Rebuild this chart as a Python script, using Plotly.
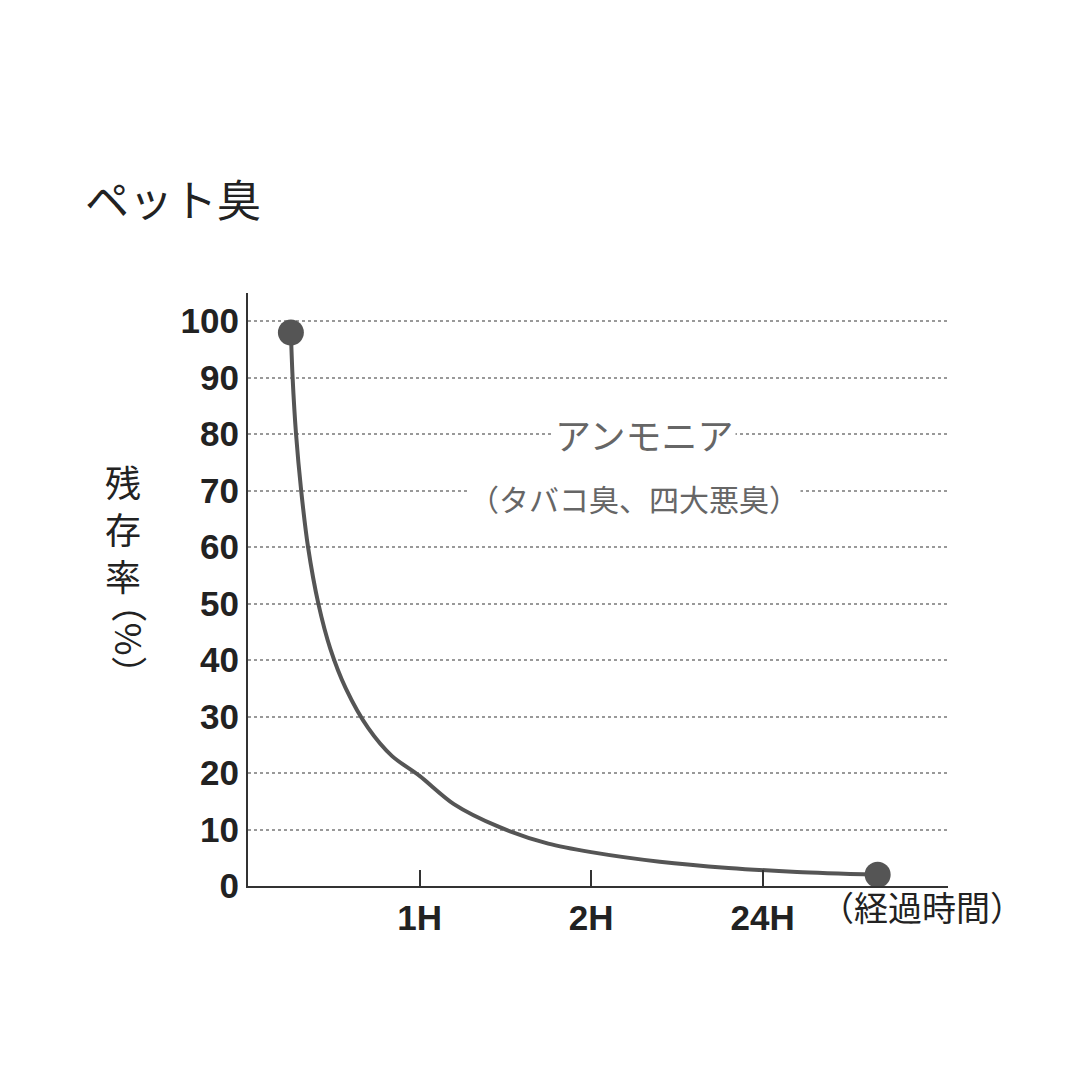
import plotly.graph_objects as go

curve_x = [0.25,0.26,0.28,0.31,0.35,0.41,0.48,0.57,0.70,0.84,1.0,1.2,1.46,1.75,2.0,2.4,2.8,3.2,3.67]
curve_y = [98,90,80,70,60,50,42,35,28,23,19.5,14.5,10.5,7.5,6,4.3,3.2,2.5,2]
end_x = [0.25, 3.67]
end_y = [98, 2]
x_ticks = [1, 2, 3]
x_labels = ["1H", "2H", "24H"]
y_ticks = list(range(0, 101, 10))

F = "Noto Sans CJK JP"
fig = go.Figure()
fig.add_trace(go.Scatter(x=curve_x, y=curve_y, mode="lines",
                         line=dict(color="#555", width=4, shape="spline", smoothing=0.8), hoverinfo="skip"))
fig.add_trace(go.Scatter(x=end_x, y=end_y, mode="markers",
                         marker=dict(color="#555", size=26), hoverinfo="skip"))
fig.update_layout(
    width=1080, height=1080, showlegend=False,
    paper_bgcolor="white", plot_bgcolor="white",
    margin=dict(l=240, r=140, t=285, b=202, autoexpand=False),
    font=dict(family=F, color="#222"),
    xaxis=dict(range=[0, 4.08], tickvals=x_ticks, ticktext=["<b>%s</b>" % t for t in x_labels],
               ticks="inside", automargin=False,
               ticklen=16, tickwidth=2, tickcolor="#333", showline=True, linecolor="#333",
               linewidth=2, showgrid=False, zeroline=False,
               tickfont=dict(size=35, family="Liberation Sans", color="#222")),
    yaxis=dict(range=[0, 105], tickvals=y_ticks, ticktext=["<b>%d</b>" % v for v in y_ticks],
               showline=True, linecolor="#333", automargin=False,
               linewidth=2, showgrid=True, gridcolor="#999", griddash="dot", gridwidth=2,
               zeroline=False, ticks="",
               tickfont=dict(size=35, family="Liberation Sans", color="#222")),
)
anns = [
    dict(xref="paper", yref="paper", x=(75-240)/700, y=(878-190)/593, text="ペット臭",
         font=dict(size=44, color="#222"), xanchor="left", yanchor="middle"),
    dict(x=2.31, y=80, text="アンモニア", font=dict(size=36, color="#666"), bgcolor="white"),
    dict(x=2.25, y=68.7, text="（タバコ臭、四大悪臭）", font=dict(size=30, color="#666"), bgcolor="white"),
    dict(xref="paper", yref="paper", x=(95-240)/700, y=(878-520)/593, text="残<br>存<br>率",
         font=dict(size=36, color="#222"), align="center"),
    dict(xref="paper", yref="paper", x=(95-240)/700, y=(878-685)/593, text="（%）", textangle=90,
         font=dict(size=36, color="#222")),
    dict(xref="paper", yref="paper", x=(810-240)/700, y=-(925-878)/593, text="（経過時間）",
         xanchor="left", font=dict(size=34, color="#222")),
]
for a in anns:
    a.setdefault("showarrow", False)
    fig.add_annotation(**a)
fig.write_html("out.html")
